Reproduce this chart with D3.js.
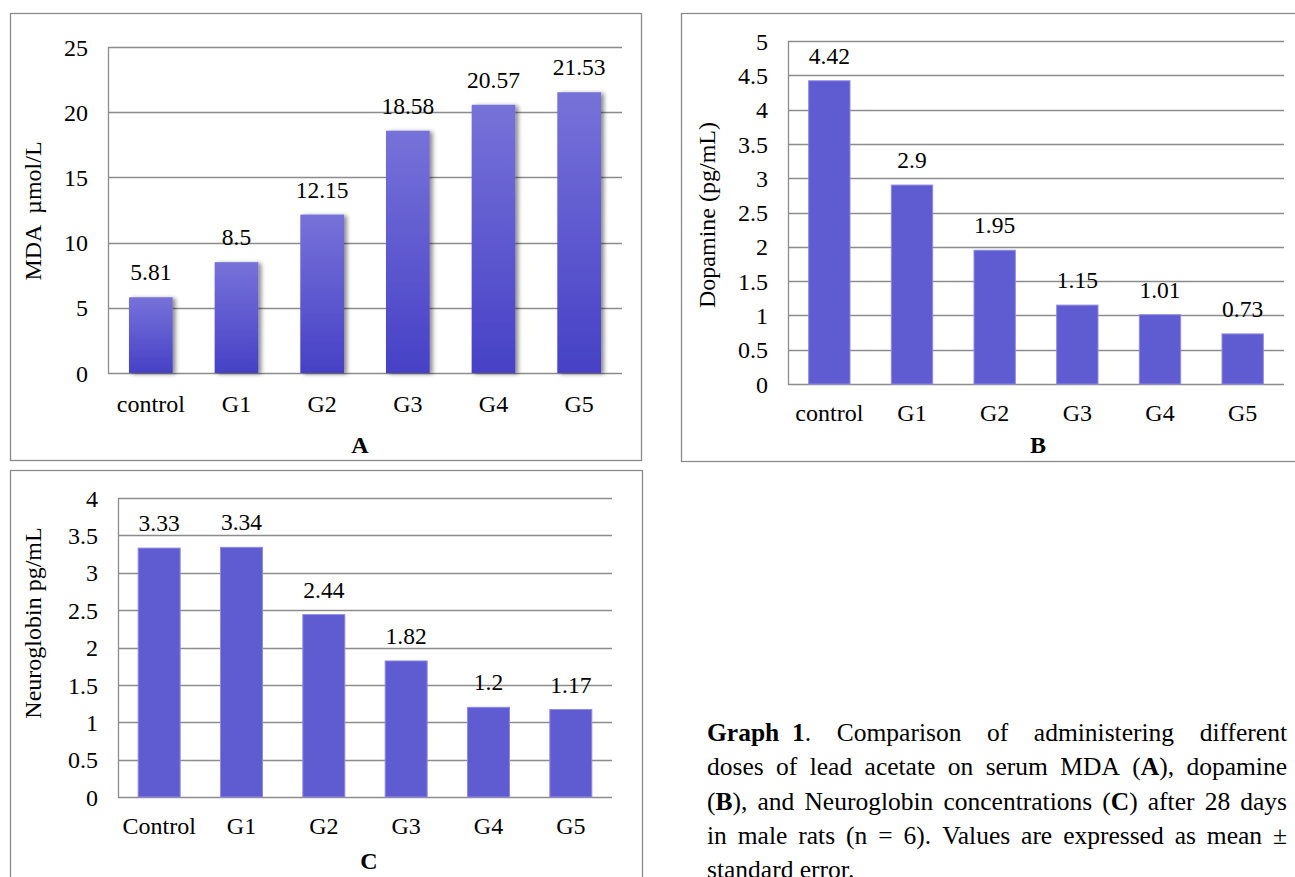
<!DOCTYPE html>
<html>
<head>
<meta charset="utf-8">
<script src="https://cdn.jsdelivr.net/npm/d3@7"></script>
<style>
  html, body { margin: 0; padding: 0; background: #fff; overflow: hidden; }
  svg { display: block; }
  svg text { font-family: "Liberation Serif", "Tinos", "Times New Roman", "DejaVu Serif", serif !important; }
</style>
</head>
<body>
<svg id="chart" width="1295" height="877"></svg>
<script>
// ---- data ----
const categoriesAB = ["control", "G1", "G2", "G3", "G4", "G5"];
const categoriesC = ["Control", "G1", "G2", "G3", "G4", "G5"];
const mdaValues = [5.81, 8.5, 12.15, 18.58, 20.57, 21.53];
const dopamineValues = [4.42, 2.9, 1.95, 1.15, 1.01, 0.73];
const neuroglobinValues = [3.33, 3.34, 2.44, 1.82, 1.2, 1.17];
const mdaTicks = [0, 5, 10, 15, 20, 25];
const dopamineTicks = [0, 0.5, 1, 1.5, 2, 2.5, 3, 3.5, 4, 4.5, 5];
const neuroglobinTicks = [0, 0.5, 1, 1.5, 2, 2.5, 3, 3.5, 4];
const panelLetters = ["A", "B", "C"];
const yTitles = ["MDA  \u00b5mol/L", "Dopamine (pg/mL)", "Neuroglobin pg/mL"];
const captionLines = [
  [["Graph\u00a0\u00a01", true], [". Comparison of administering different", false]],
  [["doses of lead acetate on serum MDA (", false], ["A", true], ["), dopamine", false]],
  [["(", false], ["B", true], ["), and Neuroglobin concentrations (", false], ["C", true], [") after 28 days", false]],
  [["in male rats (n = 6). Values are expressed as mean \u00b1", false]],
  [["standard error.", false]]
];

const svg = d3.select("#chart");
const defs = svg.append("defs");
const grad = defs.append("linearGradient").attr("id", "gradA")
  .attr("x1", 0).attr("y1", 0).attr("x2", 0).attr("y2", 1);
grad.append("stop").attr("offset", "0%").attr("stop-color", "#7772d9");
grad.append("stop").attr("offset", "100%").attr("stop-color", "#4641c6");
const filt = defs.append("filter").attr("id", "shadow")
  .attr("x", "-20%").attr("y", "-10%").attr("width", "150%").attr("height", "130%");
filt.append("feDropShadow").attr("dx", 3).attr("dy", 1).attr("stdDeviation", 2)
  .attr("flood-color", "#000").attr("flood-opacity", 0.45);

const FS = 24;
const VFS = 23.5;
const FF = '"Liberation Serif", "Tinos", "Times New Roman", "DejaVu Serif", serif';

function panel(cfg) {
  const g = svg.append("g").attr("font-family", FF);
  g.append("rect").attr("x", cfg.box[0] + 0.5).attr("y", cfg.box[1] + 0.5)
    .attr("width", cfg.box[2]).attr("height", cfg.box[3])
    .attr("fill", "#fff").attr("stroke", "#8a8a8a").attr("stroke-width", 1.3);

  const x = d3.scaleBand().domain(cfg.cats).range([cfg.left, cfg.right])
    .paddingInner(cfg.pad).paddingOuter(cfg.pad / 2);
  const y = d3.scaleLinear().domain([0, d3.max(cfg.ticks)]).range([cfg.bottom, cfg.top]);

  g.append("g").selectAll("line").data(cfg.ticks).join("line")
    .attr("x1", cfg.left).attr("x2", cfg.right)
    .attr("y1", d => Math.round(y(d)) + 0.5).attr("y2", d => Math.round(y(d)) + 0.5)
    .attr("stroke", "#8c8c8c").attr("stroke-width", 1.3);
  g.append("line").attr("x1", cfg.left + 0.5).attr("x2", cfg.left + 0.5)
    .attr("y1", cfg.top).attr("y2", cfg.bottom + 1)
    .attr("stroke", "#8c8c8c").attr("stroke-width", 1.3);

  const yAxis = d3.axisLeft(y).tickValues(cfg.ticks).tickSize(0).tickPadding(0)
    .tickFormat(d => String(d));
  const ya = g.append("g").attr("transform", `translate(${cfg.left - 20},0)`).call(yAxis)
    .attr("font-family", FF).attr("font-size", FS);
  ya.select(".domain").remove();
  ya.selectAll("text").attr("fill", "#000").attr("dy", "0.34em");

  g.append("g").selectAll("rect").data(cfg.values).join("rect")
    .attr("x", (d, i) => x(cfg.cats[i]))
    .attr("width", x.bandwidth())
    .attr("y", d => y(d))
    .attr("height", d => y(0) - y(d))
    .attr("fill", cfg.gradient ? "url(#gradA)" : "#5f5bd0")
    .attr("stroke", cfg.gradient ? "none" : "#8f8be3")
    .attr("stroke-width", 1)
    .attr("filter", cfg.gradient ? "url(#shadow)" : null);

  g.append("g").selectAll("text").data(cfg.values).join("text")
    .attr("x", (d, i) => x(cfg.cats[i]) + x.bandwidth() / 2)
    .attr("y", d => y(d) - 17)
    .attr("text-anchor", "middle").attr("font-size", VFS)
    .text(d => String(d));

  const xAxis = d3.axisBottom(x).tickSize(0).tickPadding(0);
  const xa = g.append("g").attr("transform", `translate(0,${cfg.catY})`).call(xAxis)
    .attr("font-family", FF).attr("font-size", FS);
  xa.select(".domain").remove();
  xa.selectAll("text").attr("fill", "#000").attr("dy", 0);

  g.append("text").attr("x", cfg.letterX).attr("y", cfg.letterY)
    .attr("text-anchor", "middle").attr("font-size", FS).attr("font-weight", "bold")
    .text(cfg.letter);

  g.append("text")
    .attr("transform", `translate(${cfg.titleX},${cfg.titleY}) rotate(-90)`)
    .attr("text-anchor", "middle").attr("font-size", FS)
    .style("white-space", "pre")
    .text(cfg.title);
}

panel({ box: [10, 13, 631, 447], left: 108, right: 622, top: 47, bottom: 373,
  cats: categoriesAB, values: mdaValues, ticks: mdaTicks, pad: 0.49, gradient: true,
  catY: 412, letter: panelLetters[0], letterX: 360, letterY: 453,
  title: yTitles[0], titleX: 41, titleY: 211 });

panel({ box: [681, 13, 640, 448], left: 788, right: 1284, top: 41, bottom: 384,
  cats: categoriesAB, values: dopamineValues, ticks: dopamineTicks, pad: 0.5, gradient: false,
  catY: 421, letter: panelLetters[1], letterX: 1038, letterY: 453,
  title: yTitles[1], titleX: 715, titleY: 215 });

panel({ box: [10, 470, 632, 440], left: 118, right: 612, top: 498, bottom: 797,
  cats: categoriesC, values: neuroglobinValues, ticks: neuroglobinTicks, pad: 0.49, gradient: false,
  catY: 834, letter: panelLetters[2], letterX: 369, letterY: 869,
  title: yTitles[2], titleX: 41, titleY: 623 });

// caption, justified
const capLeft = 707, capRight = 1287, capTop = 741, capLH = 34.3, capFS = 25.5;
const cap = svg.append("g").attr("font-size", capFS).attr("font-family", FF);
captionLines.forEach((segs, li) => {
  const words = [];
  let cur = [];
  segs.forEach(([txt, bold]) => {
    const parts = txt.split(" ");
    parts.forEach((p, pi) => {
      if (pi > 0) { if (cur.length) words.push(cur); cur = []; }
      if (p.length) cur.push([p, bold]);
    });
  });
  if (cur.length) words.push(cur);
  const yb = capTop + li * capLH;
  const wgs = words.map(w => {
    const t = cap.append("text").attr("y", yb).style("white-space", "pre");
    w.forEach(([s, b]) => t.append("tspan").attr("font-weight", b ? "bold" : "normal").text(s));
    return t;
  });
  const widths = wgs.map(t => t.node().getComputedTextLength());
  const total = d3.sum(widths);
  const last = li === captionLines.length - 1;
  const space = last ? capFS * 0.25 : (capRight - capLeft - total) / Math.max(1, wgs.length - 1);
  let xx = capLeft;
  wgs.forEach((t, i) => { t.attr("x", xx); xx += widths[i] + space; });
});
</script>
</body>
</html>
